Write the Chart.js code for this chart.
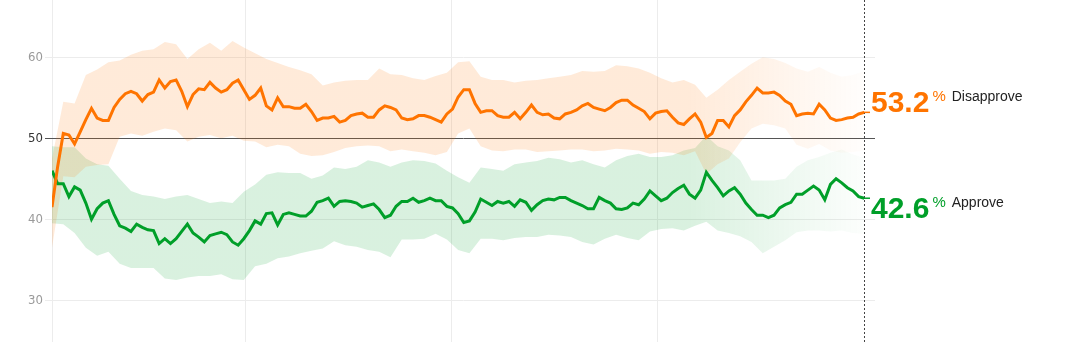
<!DOCTYPE html>
<html>
<head>
<meta charset="utf-8">
<title>Approval</title>
<script src="https://cdn.jsdelivr.net/npm/chart.js@4.4.1/dist/chart.umd.min.js"></script>
<style>
  html, body { margin: 0; padding: 0; background: #fff; }
  #wrap { position: relative; width: 1067px; height: 342px; }
</style>
</head>
<body>
<div id="wrap"><canvas id="approval-chart"></canvas></div>
<script>
// Days are counted from Jan 1, 2017; the average starts on Jan 23.
var FIRST_DAY = 22;
var LAST_AXIS_DAY = 1481;
var gridDays = [22, 365, 730, 1095]; // start, then Jan 1 of 2018, 2019, 2020
var yTicks = [30, 40, 50, 60];

// poll average, one value every 10 days
var lineDays = [];
for (var d = FIRST_DAY; d <= 1462; d += 10) lineDays.push(d);

var disapprove = [
  41.5, 46.5, 50.6, 50.4, 49.3, 50.8, 52.3, 53.7, 52.5, 52.2,
  52.2, 53.8, 54.8, 55.5, 55.8, 55.5, 54.6, 55.4, 55.7, 57.2,
  56.2, 57.0, 57.2, 55.8, 53.9, 55.4, 56.1, 56.0, 56.9, 56.2,
  55.7, 56.0, 56.8, 57.2, 56.0, 54.8, 55.3, 56.2, 54.0, 53.5,
  55.0, 53.9, 53.9, 53.7, 53.7, 54.2, 53.3, 52.2, 52.5, 52.5,
  52.7, 52.0, 52.2, 52.8, 53.0, 53.1, 52.6, 52.6, 53.5, 54.0,
  53.8, 53.5, 52.5, 52.3, 52.4, 52.8, 52.8, 52.6, 52.3, 52.0,
  53.0, 53.6, 55.1, 56.0, 56.0, 54.3, 53.2, 53.4, 53.4, 52.8,
  52.6, 52.6, 53.2, 52.4, 53.2, 54.1, 53.2, 52.9, 53.0, 52.5,
  52.4, 53.0, 53.2, 53.5, 54.0, 54.3, 53.8, 53.6, 53.4, 53.8,
  54.4, 54.7, 54.7, 54.1, 53.7, 53.3, 52.4, 53.1, 53.3, 53.4,
  52.6, 51.9, 51.7, 52.4, 53.0, 52.0, 50.1, 50.6, 52.2, 52.2,
  51.4, 52.8, 53.5, 54.5, 55.3, 56.2, 55.6, 55.6, 55.7, 55.3,
  54.6, 54.2, 52.8, 53.0, 53.1, 53.0, 54.2, 53.5, 52.5, 52.2,
  52.3, 52.5, 52.6, 53.0, 53.2
];

var approve = [
  46.0, 44.4, 44.4, 42.8, 44.0, 43.6, 42.0, 40.0, 41.3, 42.0,
  42.3, 40.6, 39.2, 38.9, 38.5, 39.4, 39.0, 38.7, 38.6, 37.0,
  37.6, 37.0, 37.6, 38.5, 39.4, 38.3, 37.8, 37.2, 38.0, 38.2,
  38.4, 38.1, 37.2, 36.8, 37.6, 38.6, 39.8, 39.4, 40.7, 40.8,
  39.3, 40.6, 40.8, 40.6, 40.4, 40.4, 41.0, 42.1, 42.3, 42.6,
  41.6, 42.2, 42.3, 42.2, 42.0, 41.5, 41.7, 41.9, 41.2, 40.2,
  40.5, 41.6, 42.2, 42.2, 42.6, 42.1, 42.3, 42.6, 42.3, 42.3,
  41.6, 41.4, 40.7, 39.6, 39.8, 40.9, 42.5, 42.1, 41.7, 42.2,
  42.0, 42.2, 41.6, 42.4, 42.1, 41.1, 41.8, 42.3, 42.5, 42.4,
  42.7, 42.7, 42.3, 42.0, 41.7, 41.3, 41.3, 42.7, 42.3, 42.0,
  41.3, 41.2, 41.4, 42.0, 41.8, 42.5, 43.5, 42.9, 42.3, 42.6,
  43.3, 43.8, 44.2, 43.1, 42.6, 43.6, 45.8, 44.8, 43.9, 42.9,
  43.5, 43.9, 43.1, 42.0, 41.2, 40.5, 40.5, 40.2, 40.5, 41.4,
  41.8, 42.1, 43.1, 43.1, 43.6, 44.1, 43.6, 42.4, 44.3, 45.0,
  44.5, 43.9, 43.5, 42.8, 42.6
];

// uncertainty bands, one value every 20 days
var bandDays = [];
for (var b = FIRST_DAY; b <= 1462; b += 20) bandDays.push(b);

var disapproveHigh = [
  47.5, 54.5, 54.3, 57.8, 58.5, 59.4, 59.6, 60.3, 60.8, 61.0,
  61.9, 61.6, 59.8, 61.0, 61.8, 60.8, 62.0, 61.2, 60.5, 59.8,
  59.3, 58.8, 58.4, 57.9, 56.5, 56.9, 57.1, 57.2, 57.2, 58.6,
  57.9, 57.8, 57.4, 57.2, 57.7, 58.1, 59.4, 59.5, 57.6, 57.2,
  57.2, 56.9, 57.1, 57.2, 57.4, 57.6, 57.8, 58.3, 58.2, 58.3,
  59.0, 58.9, 58.6, 58.1, 57.4, 56.9, 57.2, 56.6, 55.0, 56.0,
  57.2, 58.2, 59.2, 60.0, 59.8, 59.3, 58.6, 58.2, 58.8, 58.1,
  57.6, 57.8, 58.3
];
var disapproveLow = [
  36.5, 45.3, 45.2, 46.5, 46.7, 46.8, 50.2, 50.6, 50.3, 50.8,
  51.2, 51.0, 49.6, 50.2, 50.4, 50.0, 50.3, 49.7, 49.6, 48.9,
  49.2, 49.0, 48.1, 47.8, 47.9, 48.3, 48.8, 49.0, 49.1, 49.0,
  48.4, 48.6, 48.4, 48.2, 47.9, 48.3, 50.6, 51.2, 49.0, 48.5,
  48.4, 48.6, 48.6, 48.3, 48.4, 48.5, 48.6, 48.6, 48.4, 48.5,
  48.7, 48.6, 48.5, 48.1, 48.3, 48.2, 47.9, 48.4, 45.6, 46.8,
  47.5, 49.5, 51.2, 51.8, 51.6, 51.2, 49.2, 48.7, 49.3, 48.5,
  48.2, 48.3, 48.5
];
var approveHigh = [
  49.0, 48.9, 48.9, 47.5, 46.8, 46.6, 45.0, 43.5, 43.0, 42.8,
  42.5, 42.8, 43.0, 42.5, 42.0, 42.2, 42.0, 43.4, 44.3, 45.5,
  45.8, 45.7, 45.7, 45.0, 45.4, 46.4, 46.2, 46.5, 47.3, 47.0,
  46.5, 47.0, 47.3, 47.2, 46.9, 46.0, 45.2, 44.5, 46.4, 46.2,
  46.0, 46.8, 47.0, 47.2, 47.6, 47.4, 47.0, 47.3, 46.8, 46.4,
  47.3, 47.8, 48.1, 47.7, 47.7, 47.9, 48.5, 48.8, 50.3, 49.0,
  48.5, 47.3, 44.8, 44.8, 44.8, 45.0, 46.5, 47.3, 47.7, 48.2,
  48.6, 48.0, 47.6
];
var approveLow = [
  39.5, 39.4, 38.3, 36.5, 35.5, 36.0, 34.5, 34.0, 34.0, 34.0,
  32.7, 32.5, 32.8, 33.0, 33.0, 33.2, 32.6, 32.5, 34.2, 34.5,
  35.2, 35.4, 35.8, 36.1, 36.4, 37.3, 36.8, 36.6, 36.2, 36.0,
  35.3, 37.5, 37.5, 37.6, 38.2, 37.5, 36.2, 35.8, 37.6, 37.6,
  37.4, 37.7, 37.8, 37.8, 38.1, 38.0, 37.8, 37.2, 36.9, 37.6,
  38.1, 37.7, 37.4, 38.5, 38.8, 38.9, 38.6, 39.2, 39.7, 38.6,
  38.3, 37.9, 37.2, 35.8, 36.6, 37.4, 38.4, 38.6, 38.6, 38.5,
  38.6, 38.3, 38.2
];

var ORANGE = "#ff7400";
var GREEN = "#009f29";
var FADE_FROM_DAY = 1150; // bands fade out over the most recent stretch

function points(days, values) {
  return values.map(function (v, i) { return { x: days[i], y: v }; });
}

// Band fill that fades toward the right edge
function bandFill(rgb) {
  return function (context) {
    var chart = context.chart;
    if (!chart.chartArea) return "rgba(" + rgb + ",0.15)";
    var x = chart.scales.x;
    var g = chart.ctx.createLinearGradient(
      x.getPixelForValue(FADE_FROM_DAY), 0,
      x.getPixelForValue(lineDays[lineDays.length - 1]), 0
    );
    g.addColorStop(0, "rgba(" + rgb + ",0.15)");
    g.addColorStop(0.5, "rgba(" + rgb + ",0.08)");
    g.addColorStop(1, "rgba(" + rgb + ",0.01)");
    return g;
  };
}

// Dotted "latest" line plus the end-of-line labels
var endLabels = {
  id: "endLabels",
  afterDatasetsDraw: function (chart) {
    var ctx = chart.ctx;
    var xs = chart.scales.x;
    var ys = chart.scales.y;
    var last = lineDays.length - 1;
    var px = Math.round(xs.getPixelForValue(lineDays[last])) + 0.5;

    ctx.save();
    ctx.strokeStyle = "#444";
    ctx.lineWidth = 1;
    ctx.setLineDash([2, 2]);
    ctx.beginPath();
    ctx.moveTo(px, 0);
    ctx.lineTo(px, chart.height);
    ctx.stroke();
    ctx.setLineDash([]);

    var labels = [
      { value: disapprove[last], color: ORANGE, word: "Disapprove", above: true },
      { value: approve[last], color: GREEN, word: "Approve", above: false },
    ];
    var left = 871;
    labels.forEach(function (l) {
      var yv = ys.getPixelForValue(l.value);
      ctx.strokeStyle = l.color;
      ctx.lineWidth = 1.5;
      ctx.beginPath();
      ctx.moveTo(px - 1, yv);
      ctx.lineTo(left - 1, yv);
      ctx.stroke();

      var base = l.above ? yv : yv + 20;
      var num = l.value.toFixed(1);
      ctx.fillStyle = l.color;
      ctx.textBaseline = "alphabetic";
      ctx.font = "bold 30px 'Liberation Sans', Arial, sans-serif";
      ctx.fillText(num, left, base);
      var x2 = left + ctx.measureText(num).width + 3;

      ctx.font = "15px 'Liberation Sans', Arial, sans-serif";
      ctx.textBaseline = "top";
      ctx.fillText("%", x2, base - 23);
      var x3 = x2 + ctx.measureText("%").width + 6;

      ctx.fillStyle = "#222";
      ctx.textBaseline = "alphabetic";
      ctx.font = "14px 'Liberation Sans', Arial, sans-serif";
      ctx.fillText(l.word, x3, base - 11);
    });
    ctx.restore();
  },
};

document.addEventListener("DOMContentLoaded", function () {
  var ctx = document.getElementById("approval-chart").getContext("2d");

  var lineOptions = {
    borderWidth: 3,
    pointRadius: 0,
    tension: 0,
    fill: false,
  };
  var bandOptions = {
    borderWidth: 0,
    pointRadius: 0,
    tension: 0,
  };

  new Chart(ctx, {
    type: "line",
    data: {
      datasets: [
        { label: "Disapprove", data: points(lineDays, disapprove), borderColor: ORANGE, ...lineOptions },
        { label: "Approve", data: points(lineDays, approve), borderColor: GREEN, ...lineOptions },
        { label: "Disapprove high", data: points(bandDays, disapproveHigh), ...bandOptions, fill: "+1", backgroundColor: bandFill("255,116,0") },
        { label: "Disapprove low", data: points(bandDays, disapproveLow), ...bandOptions, fill: false },
        { label: "Approve high", data: points(bandDays, approveHigh), ...bandOptions, fill: "+1", backgroundColor: bandFill("0,159,41") },
        { label: "Approve low", data: points(bandDays, approveLow), ...bandOptions, fill: false },
      ],
    },
    options: {
      responsive: true,
      maintainAspectRatio: false,
      animation: false,
      layout: { padding: { left: 0, right: 192, top: 0, bottom: 0 } },
      plugins: {
        legend: { display: false },
        tooltip: { enabled: false },
      },
      scales: {
        x: {
          type: "linear",
          min: FIRST_DAY,
          max: LAST_AXIS_DAY,
          border: { display: false },
          grid: { color: "#ececec", drawTicks: false },
          ticks: { display: false },
          afterBuildTicks: function (scale) {
            scale.ticks = gridDays.map(function (v) { return { value: v }; });
          },
          afterFit: function (scale) {
            scale.height = 0;
            scale.paddingLeft = 0;
            scale.paddingRight = 0;
          },
        },
        y: {
          min: 24.85,
          max: 67.07,
          border: { display: false },
          grid: {
            color: function (c) { return c.tick && c.tick.value === 50 ? "#555" : "#ececec"; },
            tickLength: 7,
          },
          ticks: {
            padding: 2,
            color: function (c) { return c.tick && c.tick.value === 50 ? "#333" : "#9a9a9a"; },
            font: { family: "'DejaVu Sans Condensed', 'DejaVu Sans', sans-serif", size: 13 },
          },
          afterBuildTicks: function (scale) {
            scale.ticks = yTicks.map(function (v) { return { value: v }; });
          },
          afterFit: function (scale) {
            // the full height belongs to the plot, labels sit inside it
            scale.width = 52;
            scale.paddingTop = 0;
            scale.paddingBottom = 0;
          },
        },
      },
    },
    plugins: [endLabels],
  });
});
</script>
</body>
</html>
